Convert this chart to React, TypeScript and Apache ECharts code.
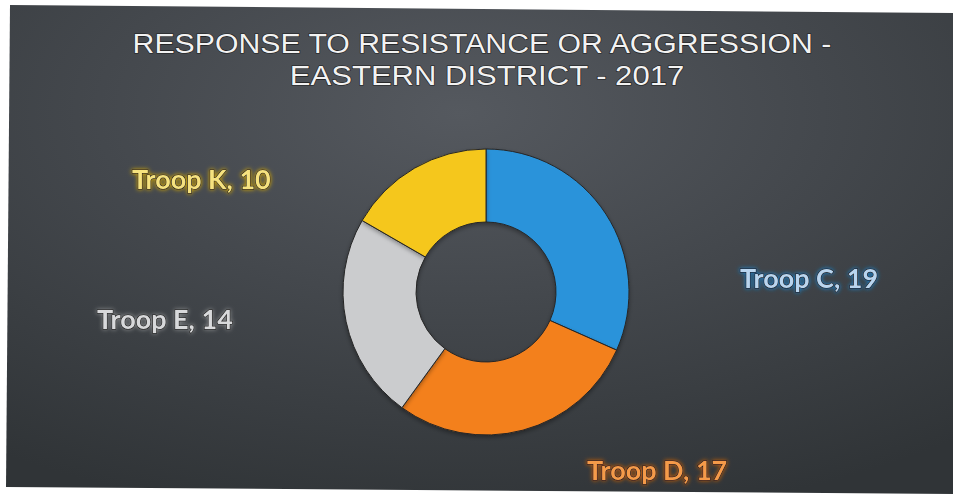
import React, { useEffect, useRef } from "react";
import * as echarts from "echarts";

const titleLines = ["RESPONSE TO RESISTANCE OR AGGRESSION -", "EASTERN DISTRICT - 2017"];
const categories = ["Troop C", "Troop D", "Troop E", "Troop K"];
const values = [19, 17, 14, 10];
const sliceColors = ["#2a93da", "#f3801f", "#cbccce", "#f5c71c"];
const labelColors = ["#b9d5ef", "#f59a4a", "#d8d9db", "#f6e27e"];
const labelGlow = ["#1e7fc4", "#c85f10", "#8a8c8e", "#d4a800"];
const labelPos = [
  { x: 740, y: 277 },
  { x: 587, y: 469 },
  { x: 97, y: 318 },
  { x: 132, y: 178 },
];

export default function App() {
  const ref = useRef<HTMLDivElement>(null);
  useEffect(() => {
    document.body.style.margin = "0";
    const chart = echarts.init(ref.current!, null, { renderer: "svg" });
    chart.setOption({
      animation: false,
      backgroundColor: "#ffffff",
      graphic: [
        {
          type: "polygon",
          z: -10,
          silent: true,
          shape: { points: [[10, 5], [953, 13], [953, 494], [6, 487]] },
          style: {
            fill: new echarts.graphic.RadialGradient(0.48, 0.22, 0.85, [
              { offset: 0, color: "#55595f" },
              { offset: 0.45, color: "#44484d" },
              { offset: 1, color: "#303437" },
            ]),
          },
        },
        ...titleLines.map((t, i) => ({
          type: "text",
          z: 100,
          x: i === 0 ? 482 : 487,
          y: i === 0 ? 44 : 75.5,
          scaleX: i === 0 ? 1.12 : 1.15,
          style: {
            text: t,
            x: 0,
            y: 0,
            textAlign: "center",
            textVerticalAlign: "middle",
            font: "normal 27px 'Liberation Sans', Arial, sans-serif",
            fill: "#f2f2f2",
            stroke: "#1c1c1c",
            lineWidth: 1.2,
            shadowColor: "rgba(0,0,0,0.6)",
            shadowBlur: 3,
            shadowOffsetX: 1,
            shadowOffsetY: 1,
          },
        })),
      ],
      series: [
        {
          type: "pie",
          center: [486, 292],
          radius: [70, 143],
          startAngle: 90,
          clockwise: true,
          avoidLabelOverlap: false,
          itemStyle: {
            borderColor: "#262626",
            borderWidth: 1,
            shadowColor: "rgba(0,0,0,0.35)",
            shadowBlur: 4,
            shadowOffsetY: 2,
          },
          label: {
            show: true,
            position: "outside",
            formatter: "{b}, {c}",
            fontFamily: "Lato, 'Open Sans', sans-serif",
            fontWeight: "bold",
            fontSize: 27,
            textBorderColor: "#222",
            textBorderWidth: 1.5,
          },
          labelLine: { show: false },
          labelLayout: (params: any) => {
            const p = labelPos[params.dataIndex];
            return { x: p.x, y: p.y, align: "left", verticalAlign: "middle" };
          },
          emphasis: { disabled: true },
          data: categories.map((name, i) => ({
            name,
            value: values[i],
            itemStyle: { color: sliceColors[i] },
            label: {
              color: labelColors[i],
              textShadowColor: labelGlow[i],
              textShadowBlur: 4,
            },
          })),
        },
      ],
    });
    return () => chart.dispose();
  }, []);
  return <div ref={ref} style={{ position: "absolute", left: 0, top: 0, width: 953, height: 494 }} />;
}
